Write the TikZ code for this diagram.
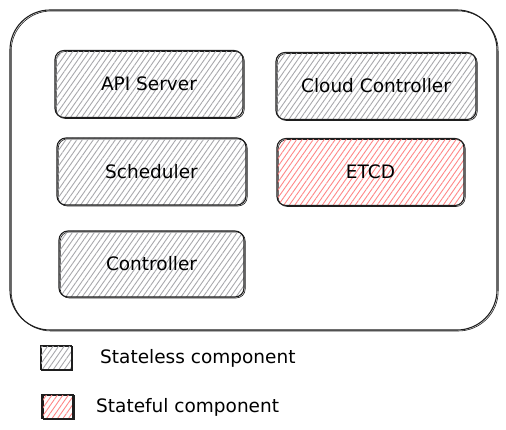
\documentclass[tikz,border=0pt]{standalone}
\usepackage{fontspec}
\setmainfont{DejaVu Sans}
\usetikzlibrary{positioning, patterns.meta}

\definecolor{inkcolor}{RGB}{30, 30, 30}
\definecolor{statelesscolor}{RGB}{168, 168, 172}
\definecolor{statefulcolor}{RGB}{255, 135, 135}

\begin{document}
\begin{tikzpicture}[
    x=1pt, y=-1pt,
    sketch/.style={draw=inkcolor, line width=1.1pt,
        preaction={draw=inkcolor, line width=0.6pt, transform canvas={shift={(1.2pt,-1pt)}}}},
    compbox/.style={sketch, rounded corners=9pt, inner sep=0pt, minimum height=67pt,
        pattern={Lines[angle=55, distance=4.5pt, line width=0.9pt]}, pattern color=statelesscolor,
        font=\fontsize{18.5}{22}\selectfont},
    statebox/.style={compbox, pattern color=statefulcolor},
    legendbox/.style={sketch, inner sep=0pt, minimum width=31pt, minimum height=24pt,
        pattern={Lines[angle=55, distance=4.5pt, line width=0.9pt]}},
    legendtext/.style={anchor=west, inner sep=0pt, font=\fontsize{18.5}{22}\selectfont}
]
    \useasboundingbox (0,0) rectangle (506,430);

    % Control plane frame
    \node[sketch, rounded corners=40pt, minimum width=487pt, minimum height=320pt] (plane) at (253.5,170) {};

    % Components
    \node[compbox, minimum width=188pt] (api) at (149,84) {API Server};
    \node[compbox, minimum width=200pt] (cloud) at (376,86) {Cloud Controller};
    \node[compbox, minimum width=189pt] (sched) at (151.5,171.5) {Scheduler};
    \node[statebox, minimum width=187pt] (etcd) at (370.5,172) {ETCD};
    \node[compbox, minimum width=185pt, minimum height=66pt] (ctrl) at (151.5,264) {Controller};

    % Legend
    \node[legendbox, pattern color=statelesscolor] (lgless) at (56,357.5) {};
    \node[legendtext] (lglesstext) at (100,358) {Stateless component};
    \node[legendbox, pattern color=statefulcolor] (lgful) at (57.5,406.5) {};
    \node[legendtext] (lgfultext) at (96,407) {Stateful component};

\end{tikzpicture}
\end{document}
